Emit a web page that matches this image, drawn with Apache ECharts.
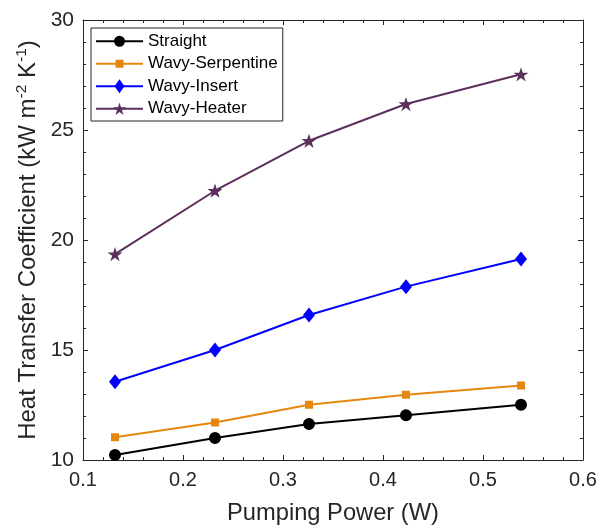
<!DOCTYPE html>
<html>
<head>
<meta charset="utf-8">
<script src="https://cdn.jsdelivr.net/npm/echarts@6/dist/echarts.min.js"></script>
<style>
html,body{margin:0;padding:0;background:#fff;}
#chart{width:598px;height:527px;}
</style>
</head>
<body>
<div id="chart"></div>
<script>
// ---- data ----
const pumpingPower = [0.132, 0.232, 0.326, 0.423, 0.538];
const straight = [10.23, 11.0, 11.64, 12.03, 12.51];
const wavySerpentine = [11.03, 11.70, 12.51, 12.97, 13.39];
const wavyInsert = [13.56, 15.0, 16.59, 17.88, 19.14];
const wavyHeater = [19.36, 22.24, 24.51, 26.18, 27.53];
const seriesNames = ['Straight', 'Wavy-Serpentine', 'Wavy-Insert', 'Wavy-Heater'];
const xTicks = [0.1, 0.2, 0.3, 0.4, 0.5, 0.6];
const yTicks = [10, 15, 20, 25, 30];

const FONT = '"Liberation Sans", Arial, Helvetica, sans-serif';
const AX = '#262626';
// marker shapes drawn inside a square 144x144 frame (tiny corner specks fix the frame)
const FRAME = 'M0 0 L0.5 0 L0 0.5 Z M144 144 L143.5 144 L144 143.5 Z ';
const circlePath = 'path://' + FRAME + 'M17 72 A55 55 0 1 1 127 72 A55 55 0 1 1 17 72 Z';
const squarePath = 'path://' + FRAME + 'M32 32 L112 32 L112 112 L32 112 Z';
const diamondPath = 'path://' + FRAME + 'M72 2 L122 72 L72 142 L22 72 Z';
const starPath = 'path://' + FRAME + 'M72 10.2 L87.3 57.3 L137 57.3 L96.9 86.6 L112.2 133.8 L72 104.6 L31.8 133.8 L47.1 86.6 L7 57.3 L56.7 57.3 Z';

function pairs(ys) { return pumpingPower.map((x, i) => [x, ys[i]]); }

const xInterval = +(xTicks[1] - xTicks[0]).toFixed(10);
const yInterval = yTicks[1] - yTicks[0];

function xAxisCfg(pos, showLabels) {
  return {
    type: 'value', position: pos,
    min: xTicks[0], max: xTicks[xTicks.length - 1], interval: xInterval,
    axisLine: { show: true, onZero: false, lineStyle: { color: AX, width: 1 } },
    axisTick: { show: true, inside: true, length: 5, lineStyle: { color: AX } },
    minorTick: { show: true, splitNumber: 5, length: 3, lineStyle: { color: AX } },
    splitLine: { show: false },
    axisLabel: { show: showLabels, color: AX, fontFamily: FONT, fontSize: 20, margin: 10,
      formatter: v => (+v).toFixed(1) },
    name: showLabels ? 'Pumping Power (W)' : '',
    nameLocation: 'middle', nameGap: 41, nameMoveOverlap: false,
    nameTextStyle: { color: AX, fontFamily: FONT, fontSize: 23.7 }
  };
}
function yAxisCfg(pos, showLabels) {
  return {
    type: 'value', position: pos,
    min: yTicks[0], max: yTicks[yTicks.length - 1], interval: yInterval,
    axisLine: { show: true, onZero: false, lineStyle: { color: AX, width: 1 } },
    axisTick: { show: true, inside: true, length: 5, lineStyle: { color: AX } },
    minorTick: { show: true, splitNumber: 5, length: 3, lineStyle: { color: AX } },
    splitLine: { show: false },
    axisLabel: { show: showLabels, color: AX, fontFamily: FONT, fontSize: 21, margin: 9 },
    name: showLabels ? '{a|Heat Transfer Coefficient (kW m}{s|-2}{a| K}{s|-1}{a|)}' : '',
    nameLocation: 'middle', nameGap: 40, nameRotate: 90, nameMoveOverlap: false,
    nameTextStyle: { color: AX, fontFamily: FONT, fontSize: 24,
      rich: {
        a: { color: AX, fontFamily: FONT, fontSize: 24, lineHeight: 29 },
        s: { color: AX, fontFamily: FONT, fontSize: 15.5, lineHeight: 29, verticalAlign: 'top' }
      } }
  };
}

const chart = echarts.init(document.getElementById('chart'), null, { renderer: 'canvas' });
chart.setOption({
  backgroundColor: '#fff',
  animation: false,
  grid: { left: 83, right: 15, top: 20, bottom: 67, containLabel: false, outerBoundsMode: 'none' },
  xAxis: [xAxisCfg('bottom', true), xAxisCfg('top', false)],
  yAxis: [yAxisCfg('left', true), yAxisCfg('right', false)],
  legend: {
    left: 91, top: 28, orient: 'vertical',
    backgroundColor: '#fff', borderColor: AX, borderWidth: 1,
    padding: [2, 5, 1, 4],
    itemWidth: 47, itemHeight: 18, itemGap: 0,
    lineStyle: { width: 2 },
    textStyle: { color: '#000', fontFamily: FONT, fontSize: 17, lineHeight: 22.5 },
    data: seriesNames
  },
  series: [
    { name: seriesNames[0], type: 'line', data: pairs(straight), symbol: circlePath, symbolSize: 15.7,
      itemStyle: { color: '#000' }, lineStyle: { color: '#000', width: 2 } },
    { name: seriesNames[1], type: 'line', data: pairs(wavySerpentine), symbol: squarePath, symbolSize: 14.4,
      itemStyle: { color: '#E5870E' }, lineStyle: { color: '#E5870E', width: 2 } },
    { name: seriesNames[2], type: 'line', data: pairs(wavyInsert), symbol: diamondPath, symbolSize: [17.3, 15.4],
      itemStyle: { color: '#0000FF' }, lineStyle: { color: '#0000FF', width: 2 } },
    { name: seriesNames[3], type: 'line', data: pairs(wavyHeater), symbol: starPath, symbolSize: 16.6,
      itemStyle: { color: '#5C305C' }, lineStyle: { color: '#5C305C', width: 2 } }
  ]
});
</script>
</body>
</html>
